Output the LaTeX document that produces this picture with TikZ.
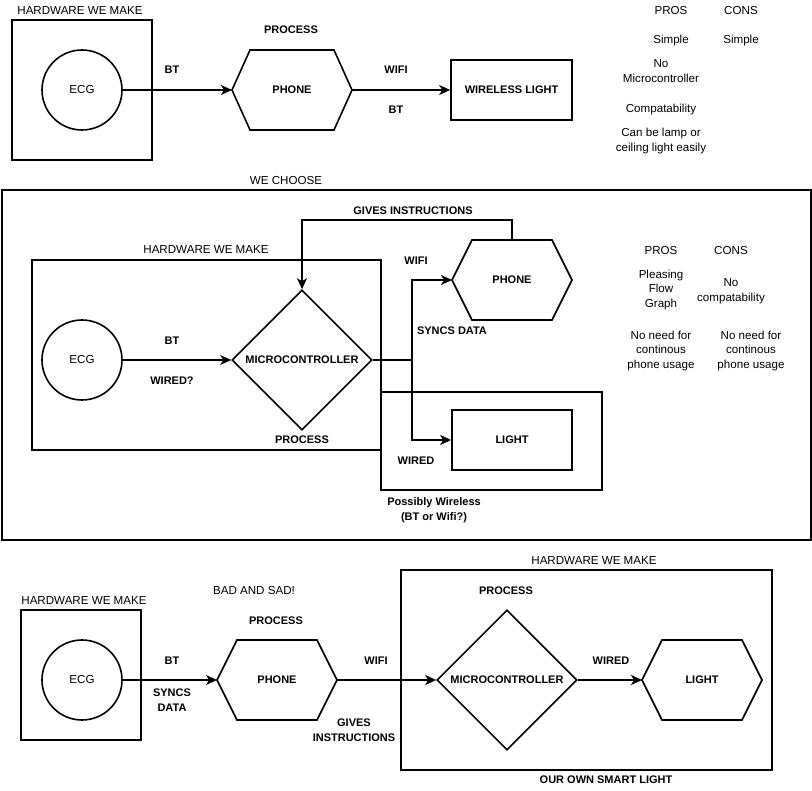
\documentclass[tikz,border=0pt]{standalone}
\usepackage{fontspec}
\setmainfont{Liberation Sans}
\usetikzlibrary{arrows.meta,shapes.geometric}

\tikzset{
  txt/.style={font=\fontsize{11.6}{14.5}\selectfont, align=center, inner sep=0pt},
  btxt/.style={txt, font=\fontsize{11}{14.5}\selectfont\bfseries},
  boxline/.style={draw, line width=1.6pt},
  ecg/.style={circle, boxline, minimum size=80pt, inner sep=0pt, txt},
  hexbox/.style={rectangle, minimum width=120pt, minimum height=80pt, inner sep=0pt, outer sep=0pt, btxt},
  chip/.style={diamond, boxline, minimum width=140pt, minimum height=140pt, inner sep=0pt, btxt},
  lampbox/.style={rectangle, boxline, inner sep=0pt, btxt},
  link/.style={line width=1.6pt},
  flow/.style={link, -{Stealth[length=11pt,width=10pt,inset=3pt]}},
}

% hexagon: name, position, text, inset
\newcommand{\hexnode}[4]{%
  \node[hexbox] (#1) at (#2) {#3};
  \draw[link, line join=miter] ([xshift=#4]#1.north west) -- ([xshift=-#4]#1.north east) -- (#1.east)
    -- ([xshift=-#4]#1.south east) -- ([xshift=#4]#1.south west) -- (#1.west) -- cycle;}

\begin{document}
\begin{tikzpicture}[x=1pt, y=-1pt]
  \useasboundingbox (0,0) rectangle (812,791);

  % First option: phone drives a wireless light
  \node[txt] (hwA) at (80,11) {HARDWARE WE MAKE};
  \draw[boxline] (12,20) rectangle (152,160);
  \node[ecg] (ecgA) at (82,90) {ECG};
  \node[btxt] (procA) at (291,30) {PROCESS};
  \hexnode{phoneA}{292,90}{PHONE}{18pt}
  \node[lampbox, minimum width=121pt, minimum height=60pt] (lightA) at (511.5,90) {WIRELESS LIGHT};
  \draw[flow] (ecgA.east) -- (phoneA.west);
  \draw[flow] (phoneA.east) -- (lightA.west);
  \node[btxt] (btA) at (172,70) {BT};
  \node[btxt] (wifiA) at (396,70) {WIFI};
  \node[btxt] (btA2) at (396,110) {BT};

  % Pros and cons
  \node[txt] (prosA) at (671,11) {PROS};
  \node[txt] (consA) at (741,11) {CONS};
  \node[txt] (proA1) at (671,41) {Simple};
  \node[txt] (conA1) at (741,41) {Simple};
  \node[txt] (proA2) at (661,71) {No\\Microcontroller};
  \node[txt] (proA3) at (661,110) {Compatability};
  \node[txt] (proA4) at (661,141) {Can be lamp or\\ceiling light easily};

  % Second option: the one we choose
  \node[txt] (chooseB) at (286,181) {WE CHOOSE};
  \draw[link, line width=1.1pt] (2,190) rectangle (811,540);
  \node[txt] (hwB) at (206,250) {HARDWARE WE MAKE};
  \draw[boxline] (32,260) rectangle (381,450);
  \draw[boxline] (381,392) rectangle (602,490);
  \node[ecg] (ecgB) at (82,360) {ECG};
  \node[chip] (mcuB) at (302,360) {\makebox[0pt]{MICROCONTROLLER}};
  \hexnode{phoneB}{512,280}{PHONE}{20pt}
  \node[lampbox, minimum width=120pt, minimum height=60pt] (lightB) at (512,440) {LIGHT};
  \coordinate (splitB) at (412,360);
  \draw[flow] (ecgB.east) -- (mcuB.west);
  \draw[link] (mcuB.east) -- (splitB);
  \draw[flow] (splitB) |- (phoneB.west);
  \draw[flow] (splitB) |- (lightB.west);
  \draw[flow] (phoneB.north) -- ++(0,-20) -| (mcuB.north);
  \node[btxt] (instrB) at (413,211) {GIVES INSTRUCTIONS};
  \node[btxt] (btB) at (172,341) {BT};
  \node[btxt] (wiredB) at (172,381) {WIRED?};
  \node[btxt] (procB) at (302,440) {PROCESS};
  \node[btxt] (wifiB) at (416,261) {WIFI};
  \node[btxt] (syncB) at (452,331) {SYNCS DATA};
  \node[btxt] (wiredB2) at (416,461) {WIRED};
  \node[btxt] (maybeB) at (434,510) {Possibly Wireless\\(BT or Wifi?)};

  % Pros and cons
  \node[txt] (prosB) at (661,251) {PROS};
  \node[txt] (consB) at (731,251) {CONS};
  \node[txt] (proB1) at (661,290) {Pleasing\\Flow\\Graph};
  \node[txt] (conB1) at (731,291) {No\\compatability};
  \node[txt] (proB2) at (661,351) {No need for\\continous\\phone usage};
  \node[txt] (conB2) at (751,351) {No need for\\continous\\phone usage};

  % Third option: bad and sad
  \node[txt] (badC) at (254,591) {BAD AND SAD!};
  \node[txt] (hwC) at (84,601) {HARDWARE WE MAKE};
  \draw[boxline] (21,610) rectangle (141,740);
  \node[ecg] (ecgC) at (82,680) {ECG};
  \node[btxt] (procC) at (276,621) {PROCESS};
  \hexnode{phoneC}{277,680}{PHONE}{20pt}
  \node[txt] (hwC2) at (594,561) {HARDWARE WE MAKE};
  \draw[boxline] (401,570) rectangle (772,770);
  \node[btxt] (ownC) at (606,780) {OUR OWN SMART LIGHT};
  \node[btxt] (procC2) at (506,591) {PROCESS};
  \node[chip] (mcuC) at (507,680) {\makebox[0pt]{MICROCONTROLLER}};
  \hexnode{lightC}{702,680}{LIGHT}{20pt}
  \draw[flow] (ecgC.east) -- (phoneC.west);
  \draw[flow] (phoneC.east) -- (mcuC.west);
  \draw[flow] (mcuC.east) -- (lightC.west);
  \node[btxt] (btC) at (172,661) {BT};
  \node[btxt] (syncC) at (172,700) {SYNCS\\DATA};
  \node[btxt] (wifiC) at (376,661) {WIFI};
  \node[btxt] (instrC) at (354,730) {GIVES\\INSTRUCTIONS};
  \node[btxt] (wiredC) at (611,661) {WIRED};
\end{tikzpicture}
\end{document}
